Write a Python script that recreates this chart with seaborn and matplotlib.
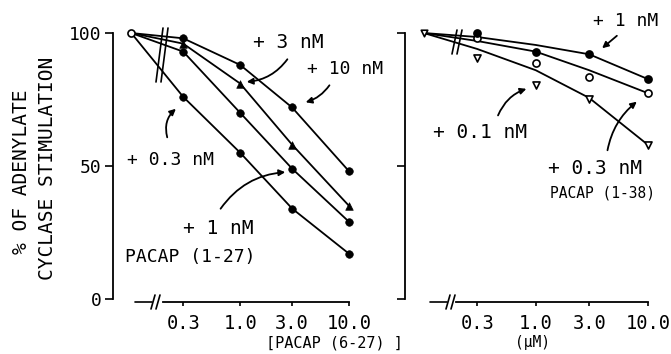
import numpy as np
import pandas as pd
import matplotlib
matplotlib.use("Agg")
import matplotlib.pyplot as plt
from matplotlib.lines import Line2D
from matplotlib.ticker import NullLocator
import seaborn as sns

# ---------------- data ----------------
conc = [0.3, 1.0, 3.0, 10.0]
conc_labels = ["0.3", "1.0", "3.0", "10.0"]
control_conc = 0.1
control_value = 100

# left panel: PACAP(1-27) at several concentrations
left_series = ["+ 0.3 nM", "+ 1 nM", "+ 3 nM", "+ 10 nM"]
left_03nM = [76, 55, 34, 17]
left_1nM = [93, 70, 49, 29]
left_3nM = [96, 81, 58, 35]
left_10nM = [98, 88, 72, 48]

# right panel: PACAP(1-38) - measured points
right_series = ["+ 0.1 nM", "+ 0.3 nM", "+ 1 nM"]
right_01nM = [90.6, 80.5, 75.2, 57.9]
right_03nM = [98.0, 88.7, 83.5, 77.4]
right_1nM = [100.0, 93.0, 92.0, 82.7]
# right panel: drawn curves
right_fit_01nM = [94.0, 86.0, 75.6, 58.0]
right_fit_03nM = [97.0, 93.0, 86.0, 77.4]
right_fit_1nM = [98.5, 95.5, 92.0, 82.7]

yticks = [0, 50, 100]

# ---------------- build tables ----------------
def long_df(names, values, with_control):
    rows = []
    for n, vals in zip(names, values):
        if with_control:
            rows.append((n, control_conc, control_value))
        for c, v in zip(conc, vals):
            rows.append((n, c, v))
    return pd.DataFrame(rows, columns=["series", "conc", "pct"])

left_vals = [left_03nM, left_1nM, left_3nM, left_10nM]
left_lines = long_df(left_series, left_vals, True)
left_pts = long_df(left_series, left_vals, False)
right_lines = long_df(right_series, [right_fit_01nM, right_fit_03nM, right_fit_1nM], True)
right_pts = long_df(right_series, [right_01nM, right_03nM, right_1nM], False)
control_df = pd.DataFrame({"conc": [control_conc], "pct": [control_value]})

# ---------------- figure ----------------
sns.set_theme(style="white")
plt.rcParams["font.family"] = ["DejaVu Sans Mono", "DejaVu Sans"]
W, H = 671, 354
fig = plt.figure(figsize=(W / 100, H / 100), dpi=100)
fig.patch.set_facecolor("white")

def fp(x, y):
    return (x / W, 1 - y / H)

ax1 = fig.add_axes([113 / W, 55 / H, 247 / W, 266 / H])
ax2 = fig.add_axes([405 / W, 55 / H, 254 / W, 266 / H])

black = {s: "black" for s in set(left_series) | set(right_series)}

# left lines + markers
sns.lineplot(data=left_lines, x="conc", y="pct", hue="series", palette=black,
             units="series", estimator=None, lw=1.3, legend=False, ax=ax1)
left_markers = {"+ 0.3 nM": "o", "+ 1 nM": "o", "+ 3 nM": "^", "+ 10 nM": "o"}
for s in left_series:
    sub = left_pts[left_pts.series == s]
    sns.scatterplot(data=sub, x="conc", y="pct", marker=left_markers[s],
                    color="black", edgecolor="black", s=30, legend=False, ax=ax1, zorder=5)
sns.scatterplot(data=control_df, x="conc", y="pct", marker="o", color="white",
                edgecolor="black", linewidth=1.2, s=26, ax=ax1, zorder=6)

# right lines + markers
sns.lineplot(data=right_lines, x="conc", y="pct", hue="series", palette=black,
             units="series", estimator=None, lw=1.3, legend=False, ax=ax2)
right_style = {"+ 0.1 nM": ("v", "white"), "+ 0.3 nM": ("o", "white"), "+ 1 nM": ("o", "black")}
for s in right_series:
    sub = right_pts[right_pts.series == s]
    m, fc = right_style[s]
    sns.scatterplot(data=sub, x="conc", y="pct", marker=m, color=fc,
                    edgecolor="black", linewidth=1.2, s=26, legend=False, ax=ax2, zorder=5)
sns.scatterplot(data=control_df, x="conc", y="pct", marker="v", color="white",
                edgecolor="black", linewidth=1.2, s=22, ax=ax2, zorder=6)

for ax in (ax1, ax2):
    ax.set_xscale("log")
    ax.set_xlim(0.068, 12.6)
    ax.set_ylim(0, 100)
    ax.set_facecolor("white")
    ax.grid(False)
    ax.set_xlabel("")
    ax.set_ylabel("")
    for sp in ("top", "right"):
        ax.spines[sp].set_visible(False)
    ax.spines["left"].set_bounds(0, 100)
    ax.spines["left"].set_linewidth(1.3)
    ax.spines["left"].set_color("black")
    ax.spines["bottom"].set_position(("outward", 2))
    ax.spines["bottom"].set_bounds(0.195, 10)
    ax.spines["bottom"].set_linewidth(1.3)
    ax.spines["bottom"].set_color("black")
    ax.set_xticks(conc)
    ax.set_xticklabels(conc_labels)
    ax.xaxis.set_minor_locator(NullLocator())
    ax.set_yticks(yticks)
    ax.tick_params(axis="x", bottom=True, direction="out", length=3, width=1.2,
                   color="black", labelsize=13.5, pad=6, labelcolor="black")
    ax.tick_params(axis="y", left=True, direction="out", length=6, width=1.2,
                   color="black", labelsize=13, pad=2, labelcolor="black")
    for art in ax.lines + ax.collections:
        art.set_clip_on(False)
ax2.set_yticklabels([])

# axis breaks (decoration)
def seg(p, q, lw=1.2):
    (x0, y0), (x1, y1) = fp(*p), fp(*q)
    fig.add_artist(Line2D([x0, x1], [y0, y1], transform=fig.transFigure,
                          color="black", lw=lw))

seg((135, 302), (152, 302))
seg((151, 309), (155, 295)); seg((156, 309), (160, 295))
seg((430, 302), (447, 302))
seg((446, 309), (450, 295)); seg((451, 309), (455, 295))
seg((156, 82), (163, 28)); seg((161, 82), (168, 28))
seg((452, 54), (457, 30)); seg((457, 54), (462, 30))

# labels
def txt(x, y, s, size, **kw):
    fig.text(*fp(x, y), s, fontsize=size, color="black", va="center", **kw)

txt(253, 43, "+ 3 nM", 14)
txt(307, 69, "+ 10 nM", 13)
txt(127, 160, "+ 0.3 nM", 13)
txt(183, 228, "+ 1 nM", 14)
txt(125, 257, "PACAP (1-27)", 13)
txt(593, 21, "+ 1 nM", 13)
txt(433, 133, "+ 0.1 nM", 14)
txt(548, 168, "+ 0.3 nM", 14)
txt(550, 193, "PACAP (1-38)", 10.5)
txt(334, 343, "[PACAP (6-27) ]", 11, ha="center")
txt(532, 343, "(\u03bcM)", 10.5, ha="center")
txt(22, 172, "% OF ADENYLATE", 14, ha="center", rotation=90)
txt(48, 168, "CYCLASE STIMULATION", 14, ha="center", rotation=90)

# curved arrows
def arrow(p, q, rad):
    fig.add_artist(matplotlib.patches.FancyArrowPatch(
        fp(*p), fp(*q), transform=fig.transFigure,
        arrowstyle="-|>", mutation_scale=9, lw=1.3, color="black",
        connectionstyle=f"arc3,rad={rad}"))

arrow((289, 57), (244, 82), -0.25)
arrow((331, 83), (303, 103), -0.2)
arrow((168, 140), (178, 107), -0.35)
arrow((219, 211), (288, 172), -0.25)
arrow((619, 34), (600, 50), 0.0)
arrow((497, 118), (529, 88), -0.25)
arrow((607, 153), (639, 100), -0.2)

fig.savefig("out.png", dpi=100, facecolor="white")
